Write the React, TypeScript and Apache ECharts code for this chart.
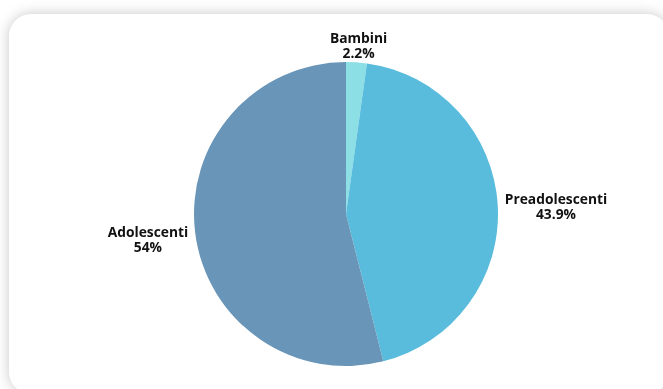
import React, { useEffect, useRef } from "react";
import * as echarts from "echarts";

const categories = ["Bambini", "Preadolescenti", "Adolescenti"];
const values = [2.2, 43.9, 54];
const colors = ["#8ddfe6", "#5abcdc", "#6895b8"];

export default function App() {
  const ref = useRef<HTMLDivElement>(null);
  useEffect(() => {
    if (!ref.current) return;
    const chart = echarts.init(ref.current, undefined, { renderer: "svg" });
    chart.setOption({
      animation: false,
      series: [
        {
          type: "pie",
          center: [337, 200],
          radius: 152,
          startAngle: 90,
          clockwise: true,
          avoidLabelOverlap: false,
          data: categories.map((c, i) => ({
            name: c,
            value: values[i],
            itemStyle: { color: colors[i] },
          })),
          label: {
            show: true,
            position: "outside",
            formatter: (p: any) => `${p.name}\n${p.value}%`,
            fontFamily: "Open Sans",
            fontWeight: 700,
            fontSize: 13.8,
            lineHeight: 15,
            color: "#111",
          },
          labelLine: { show: false, length: 2, length2: 0 },
          emphasis: { disabled: true },
          labelLayout: (p: any) => {
            const r = p.labelRect;
            if (p.dataIndex === 0) {
              return { x: r.x - 3, y: r.y + r.height / 2, align: "center", verticalAlign: "bottom" };
            }
            if (p.dataIndex === 2) {
              return { x: r.x + r.width / 2, y: r.y + r.height / 2 + 6, align: "center", verticalAlign: "middle" };
            }
            return { x: r.x + r.width / 2, y: r.y + r.height / 2, align: "center", verticalAlign: "middle" };
          },
        },
      ],
    });
    return () => chart.dispose();
  }, []);
  return (
    <div
      style={{
        position: "fixed",
        left: 9,
        top: 14,
        width: 660,
        height: 380,
        borderRadius: 22,
        background: "#fff",
        boxShadow: "0 0 14px rgba(0,0,0,0.22)",
        overflow: "hidden",
      }}
    >
      <div ref={ref} style={{ width: 660, height: 380 }} />
    </div>
  );
}
